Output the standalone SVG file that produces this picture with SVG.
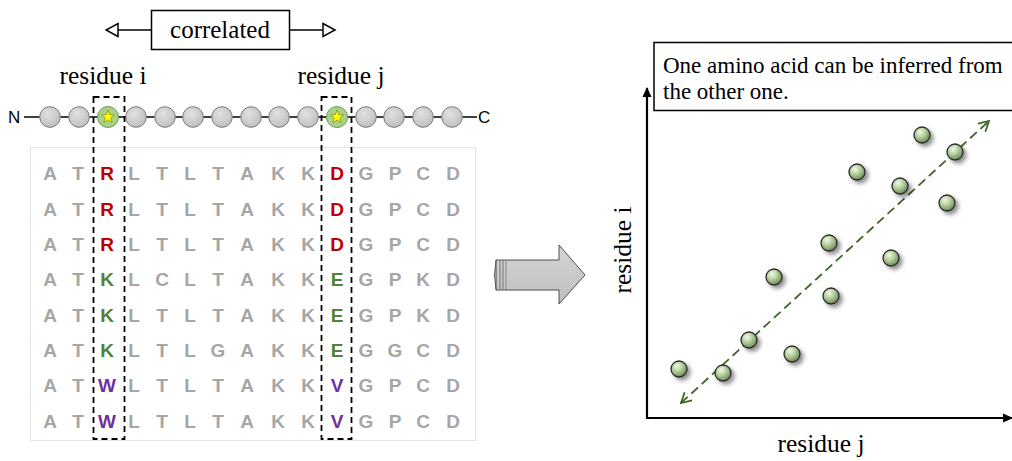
<svg xmlns="http://www.w3.org/2000/svg" width="1012" height="461" viewBox="0 0 1012 461">
  <style>
    .serif { font-family: "Liberation Serif", "Times New Roman", serif; fill: #000; }
    .aa { font-family: "Liberation Sans", Arial, sans-serif; font-weight: bold; font-size: 19px; text-anchor: middle; fill: #a6a6a6; }
    .red { fill: #c00000; }
    .grn { fill: #538135; }
    .pur { fill: #7030a0; }
    .bead { fill: url(#beadGrad); stroke: #7a7a7a; stroke-width: 1; }
    .hot { fill: #a9d18e; stroke: #6f9a58; stroke-width: 1; }
    .star { fill: #ffff00; stroke: #8a8a00; stroke-width: 0.7; }
    .sel { fill: none; stroke: #000; stroke-width: 1.8; stroke-dasharray: 6 4; }
    .dot { fill: url(#dotGrad); stroke: #2b2b2b; stroke-width: 1.3; filter: url(#shadow); }
    .term { font-family: "Liberation Sans", Arial, sans-serif; font-size: 17px; fill: #000; }
  </style>
  <defs>
    <radialGradient id="beadGrad" cx="40%" cy="35%" r="70%">
      <stop offset="0" stop-color="#e2e2e2"/>
      <stop offset="1" stop-color="#bdbdbd"/>
    </radialGradient>
    <radialGradient id="dotGrad" cx="38%" cy="32%" r="68%">
      <stop offset="0" stop-color="#f2f8ec"/>
      <stop offset="0.45" stop-color="#b9d3a0"/>
      <stop offset="1" stop-color="#6f8b5a"/>
    </radialGradient>
    <linearGradient id="arrowGrad" x1="0" y1="0" x2="0" y2="1">
      <stop offset="0" stop-color="#d4d4d4"/>
      <stop offset="1" stop-color="#bfbfbf"/>
    </linearGradient>
    <filter id="shadow" x="-50%" y="-50%" width="220%" height="220%">
      <feGaussianBlur in="SourceAlpha" stdDeviation="2.2"/>
      <feOffset dx="3" dy="3" result="b"/>
      <feComponentTransfer><feFuncA type="linear" slope="0.45"/></feComponentTransfer>
      <feMerge><feMergeNode/><feMergeNode in="SourceGraphic"/></feMerge>
    </filter>
    <marker id="openTri" viewBox="0 0 15 16" refX="13.5" refY="8" markerWidth="15" markerHeight="16" markerUnits="userSpaceOnUse" orient="auto">
      <path d="M1.5,1.5 L13.5,8 L1.5,14.5 Z" fill="#fff" stroke="#000" stroke-width="1.5"/>
    </marker>
    <marker id="axisHead" viewBox="0 0 10 10" refX="9" refY="5" markerWidth="10" markerHeight="10" markerUnits="userSpaceOnUse" orient="auto">
      <path d="M0,0.5 L10,5 L0,9.5 Z" fill="#000"/>
    </marker>
    <marker id="fitHead" viewBox="0 0 14 14" refX="12" refY="7" markerWidth="14" markerHeight="14" markerUnits="userSpaceOnUse" orient="auto-start-reverse">
      <path d="M2,1.5 L12,7 L2,12.5" fill="none" stroke="#3f6428" stroke-width="1.8"/>
    </marker>
    <polygon id="starShape" points="0,-7 1.70,-2.35 6.66,-2.16 2.76,0.90 4.11,5.66 0,2.9 -4.11,5.66 -2.76,0.90 -6.66,-2.16 -1.70,-2.35"/>
  </defs>

  <rect width="1012" height="461" fill="#fff"/>

  <!-- connectors -->
  <g id="connectors">
    <line x1="151" y1="30" x2="106" y2="30" stroke="#000" stroke-width="1.5" marker-end="url(#openTri)"/>
    <line x1="290" y1="30" x2="335" y2="30" stroke="#000" stroke-width="1.5" marker-end="url(#openTri)"/>
    <line x1="24" y1="117" x2="477" y2="117" stroke="#000" stroke-width="1.5"/>
  </g>

  <!-- correlation label -->
  <g id="correlated">
    <rect x="151.5" y="10.5" width="138" height="39" fill="#fff" stroke="#000" stroke-width="1.5"/>
    <text class="serif" x="220" y="38" font-size="25" text-anchor="middle">correlated</text>
  </g>

  <!-- residue labels -->
  <g id="residue-i-label"><text class="serif" x="103" y="84" font-size="25.5" text-anchor="middle">residue i</text></g>
  <g id="residue-j-label"><text class="serif" x="341" y="84" font-size="25.5" text-anchor="middle">residue j</text></g>

  <!-- peptide chain -->
  <g id="chain">
    <text class="term" x="8" y="123">N</text>
    <text class="term" x="478" y="123">C</text>
    <circle class="bead" cx="50" cy="117" r="10.3"/>
    <circle class="bead" cx="79" cy="117" r="10.3"/>
    <circle class="hot" cx="108" cy="117" r="10.5"/>
    <use href="#starShape" class="star" x="108" y="117"/>
    <circle class="bead" cx="136" cy="117" r="10.3"/>
    <circle class="bead" cx="165" cy="117" r="10.3"/>
    <circle class="bead" cx="193" cy="117" r="10.3"/>
    <circle class="bead" cx="222" cy="117" r="10.3"/>
    <circle class="bead" cx="251" cy="117" r="10.3"/>
    <circle class="bead" cx="279" cy="117" r="10.3"/>
    <circle class="bead" cx="308" cy="117" r="10.3"/>
    <circle class="hot" cx="337" cy="117" r="10.5"/>
    <use href="#starShape" class="star" x="337" y="117"/>
    <circle class="bead" cx="366" cy="117" r="10.3"/>
    <circle class="bead" cx="394" cy="117" r="10.3"/>
    <circle class="bead" cx="423" cy="117" r="10.3"/>
    <circle class="bead" cx="452" cy="117" r="10.3"/>
  </g>

  <!-- sequence alignment -->
  <g id="alignment">
    <rect x="30.5" y="147.5" width="445" height="293" fill="#fff" stroke="#e3e3e3" stroke-width="1"/>
    <g class="aa">
      <text y="180"><tspan x="50">A</tspan><tspan x="78">T</tspan><tspan x="107" class="red">R</tspan><tspan x="134">L</tspan><tspan x="162">T</tspan><tspan x="190">L</tspan><tspan x="218">T</tspan><tspan x="247">A</tspan><tspan x="278">K</tspan><tspan x="308">K</tspan><tspan x="337" class="red">D</tspan><tspan x="366">G</tspan><tspan x="395">P</tspan><tspan x="423">C</tspan><tspan x="453">D</tspan></text>
      <text y="215.5"><tspan x="50">A</tspan><tspan x="78">T</tspan><tspan x="107" class="red">R</tspan><tspan x="134">L</tspan><tspan x="162">T</tspan><tspan x="190">L</tspan><tspan x="218">T</tspan><tspan x="247">A</tspan><tspan x="278">K</tspan><tspan x="308">K</tspan><tspan x="337" class="red">D</tspan><tspan x="366">G</tspan><tspan x="395">P</tspan><tspan x="423">C</tspan><tspan x="453">D</tspan></text>
      <text y="250.5"><tspan x="50">A</tspan><tspan x="78">T</tspan><tspan x="107" class="red">R</tspan><tspan x="134">L</tspan><tspan x="162">T</tspan><tspan x="190">L</tspan><tspan x="218">T</tspan><tspan x="247">A</tspan><tspan x="278">K</tspan><tspan x="308">K</tspan><tspan x="337" class="red">D</tspan><tspan x="366">G</tspan><tspan x="395">P</tspan><tspan x="423">C</tspan><tspan x="453">D</tspan></text>
      <text y="286"><tspan x="50">A</tspan><tspan x="78">T</tspan><tspan x="107" class="grn">K</tspan><tspan x="134">L</tspan><tspan x="162">C</tspan><tspan x="190">L</tspan><tspan x="218">T</tspan><tspan x="247">A</tspan><tspan x="278">K</tspan><tspan x="308">K</tspan><tspan x="337" class="grn">E</tspan><tspan x="366">G</tspan><tspan x="395">P</tspan><tspan x="423">K</tspan><tspan x="453">D</tspan></text>
      <text y="321.5"><tspan x="50">A</tspan><tspan x="78">T</tspan><tspan x="107" class="grn">K</tspan><tspan x="134">L</tspan><tspan x="162">T</tspan><tspan x="190">L</tspan><tspan x="218">T</tspan><tspan x="247">A</tspan><tspan x="278">K</tspan><tspan x="308">K</tspan><tspan x="337" class="grn">E</tspan><tspan x="366">G</tspan><tspan x="395">P</tspan><tspan x="423">K</tspan><tspan x="453">D</tspan></text>
      <text y="357"><tspan x="50">A</tspan><tspan x="78">T</tspan><tspan x="107" class="grn">K</tspan><tspan x="134">L</tspan><tspan x="162">T</tspan><tspan x="190">L</tspan><tspan x="218">G</tspan><tspan x="247">A</tspan><tspan x="278">K</tspan><tspan x="308">K</tspan><tspan x="337" class="grn">E</tspan><tspan x="366">G</tspan><tspan x="395">G</tspan><tspan x="423">C</tspan><tspan x="453">D</tspan></text>
      <text y="392"><tspan x="50">A</tspan><tspan x="78">T</tspan><tspan x="107" class="pur">W</tspan><tspan x="134">L</tspan><tspan x="162">T</tspan><tspan x="190">L</tspan><tspan x="218">T</tspan><tspan x="247">A</tspan><tspan x="278">K</tspan><tspan x="308">K</tspan><tspan x="337" class="pur">V</tspan><tspan x="366">G</tspan><tspan x="395">P</tspan><tspan x="423">C</tspan><tspan x="453">D</tspan></text>
      <text y="427.5"><tspan x="50">A</tspan><tspan x="78">T</tspan><tspan x="107" class="pur">W</tspan><tspan x="134">L</tspan><tspan x="162">T</tspan><tspan x="190">L</tspan><tspan x="218">T</tspan><tspan x="247">A</tspan><tspan x="278">K</tspan><tspan x="308">K</tspan><tspan x="337" class="pur">V</tspan><tspan x="366">G</tspan><tspan x="395">P</tspan><tspan x="423">C</tspan><tspan x="453">D</tspan></text>
    </g>
  </g>

  <!-- selected columns -->
  <g id="column-i"><rect class="sel" x="93.5" y="97" width="31" height="342"/></g>
  <g id="column-j"><rect class="sel" x="321.5" y="97" width="30" height="342"/></g>

  <!-- block arrow -->
  <g id="block-arrow">
    <path d="M496,260 L559,260 L559,245 L585,275 L559,304 L559,290 L496,290 Z" fill="url(#arrowGrad)" stroke="#4d4d4d" stroke-width="1"/>
    <path d="M496,260.5 Q493,275 496,289.5" fill="none" stroke="#555" stroke-width="1"/>
    <line x1="500" y1="260.5" x2="500" y2="289.5" stroke="#777" stroke-width="1"/>
    <line x1="503" y1="260.5" x2="503" y2="289.5" stroke="#777" stroke-width="1"/>
    <line x1="506" y1="260.5" x2="506" y2="289.5" stroke="#888" stroke-width="1"/>
  </g>

  <!-- scatter plot -->
  <g id="plot">
    <line x1="647" y1="418" x2="647" y2="88" stroke="#000" stroke-width="2.2" marker-end="url(#axisHead)"/>
    <line x1="646" y1="418" x2="1012" y2="418" stroke="#000" stroke-width="2.2" marker-end="url(#axisHead)"/>
    <text class="serif" font-size="25.5" text-anchor="middle" transform="translate(631,250) rotate(-90)">residue i</text>
    <text class="serif" x="821" y="452" font-size="25.5" text-anchor="middle">residue j</text>
    <g id="fit-line">
      <line x1="682" y1="402" x2="988" y2="121" stroke="#fff" stroke-width="5" opacity="0.8"/>
      <line x1="681" y1="403" x2="989" y2="121" stroke="#3f6428" stroke-width="1.8" stroke-dasharray="9 5" marker-start="url(#fitHead)" marker-end="url(#fitHead)"/>
    </g>
    <g id="points">
      <circle class="dot" cx="922" cy="135" r="8"/>
      <circle class="dot" cx="955" cy="152" r="8"/>
      <circle class="dot" cx="857" cy="172" r="8"/>
      <circle class="dot" cx="900" cy="186" r="8"/>
      <circle class="dot" cx="947" cy="203" r="8"/>
      <circle class="dot" cx="829" cy="243" r="8"/>
      <circle class="dot" cx="891" cy="258" r="8"/>
      <circle class="dot" cx="774" cy="277" r="8"/>
      <circle class="dot" cx="831" cy="296" r="8"/>
      <circle class="dot" cx="749" cy="340" r="8"/>
      <circle class="dot" cx="792" cy="354" r="8"/>
      <circle class="dot" cx="679" cy="369" r="8"/>
      <circle class="dot" cx="723" cy="373" r="8"/>
    </g>
  </g>

  <!-- caption box -->
  <g id="caption">
    <rect x="654" y="42.5" width="370" height="68" fill="#fff" stroke="#000" stroke-width="1.5"/>
    <text class="serif" x="663" y="73" font-size="23">One amino acid can be inferred from</text>
    <text class="serif" x="663" y="99" font-size="23">the other one.</text>
  </g>
</svg>
